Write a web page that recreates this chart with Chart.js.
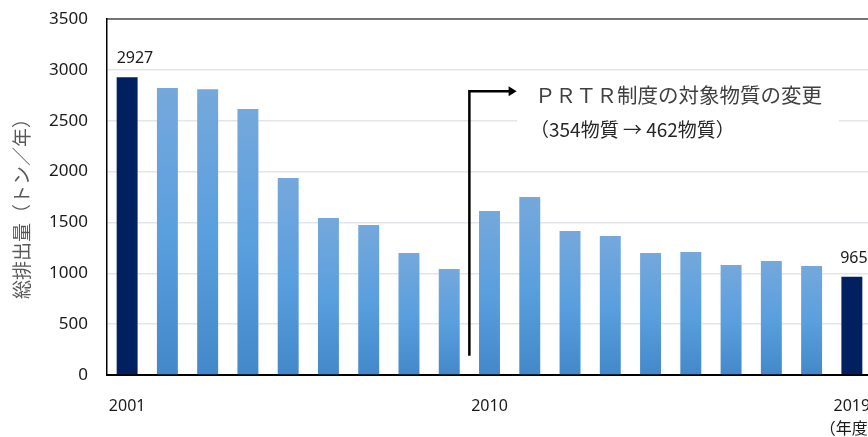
<!DOCTYPE html>
<html lang="ja">
<head>
<meta charset="utf-8">
<title>総排出量</title>
<script src="https://cdn.jsdelivr.net/npm/chart.js@4"></script>
<style>
    html, body { margin: 0; padding: 0; background: #ffffff; overflow: hidden; }
    #emissionChart { display: block; }
</style>
</head>
<body>
<canvas id="emissionChart" width="880" height="437"></canvas>
<script>
// ======================================================
// DATA
// ======================================================
const years = [
    "2001", "2002", "2003", "2004", "2005", "2006", "2007", "2008", "2009", "2010",
    "2011", "2012", "2013", "2014", "2015", "2016", "2017", "2018", "2019"
];

const emissions = [
    2927, 2822, 2810, 2615, 1937, 1544, 1475, 1200, 1042, 1612,
    1750, 1416, 1367, 1200, 1210, 1082, 1121, 1072, 965
];

const shownYears = ["2001", "2010", "2019"];
const yTicks = [0, 500, 1000, 1500, 2000, 2500, 3000, 3500];

const yTitle = "総排出量（トン／年）";
const yearUnit = "（年度）";
const noteLine1 = "ＰＲＴＲ制度の対象物質の変更";
const noteLine2 = "（354物質 → 462物質）";

const DARK = "#002060";
const FONT = "'Noto Sans', 'Noto Sans CJK JP', sans-serif";


// ======================================================
// BAR COLOURS (first / last dark, others gradient)
// ======================================================
function barColor(context) {

    const i = context.dataIndex;

    if (i === 0 || i === emissions.length - 1) return DARK;

    const chart = context.chart;
    const ys = chart.scales.y;

    if (!chart.chartArea || !ys) return "#5b9fde";

    const top = ys.getPixelForValue(emissions[i]);
    const bottom = ys.getPixelForValue(0);

    const g = chart.ctx.createLinearGradient(0, top, 0, bottom);
    g.addColorStop(0, "#75a8dc");
    g.addColorStop(0.5, "#5a9fde");
    g.addColorStop(1, "#4388c8");

    return g;
}


// ======================================================
// EXTRAS: frame, labels, note with arrow
// ======================================================
const extrasPlugin = {

    id: "extras",

    beforeDatasetsDraw(chart) {

        const { ctx, chartArea } = chart;

        // white box behind the note (hides grid lines)
        ctx.save();
        ctx.fillStyle = "#ffffff";
        ctx.fillRect(517, 76, 322, 74);
        ctx.restore();

        // frame
        ctx.save();
        ctx.strokeStyle = "#000000";
        ctx.lineWidth = 1.2;
        ctx.beginPath();
        ctx.moveTo(chartArea.left, chartArea.top);
        ctx.lineTo(chartArea.right, chartArea.top);
        ctx.lineTo(chartArea.right, chartArea.bottom);
        ctx.stroke();
        ctx.restore();
    },

    afterDatasetsDraw(chart) {

        const { ctx } = chart;
        const xs = chart.scales.x;
        const ys = chart.scales.y;
        const bars = chart.getDatasetMeta(0).data;

        // value labels on first and last bar
        ctx.save();
        ctx.fillStyle = "#1a1a1a";
        ctx.font = "16px " + FONT;
        ctx.textBaseline = "middle";

        const first = bars[0];
        ctx.textAlign = "left";
        ctx.fillText(String(emissions[0]), first.x - first.width / 2, first.y - 19);

        const last = bars[bars.length - 1];
        ctx.textAlign = "center";
        ctx.fillText(String(emissions[emissions.length - 1]), last.x + 2, last.y - 18);
        ctx.restore();

        // arrow
        const ax = xs.getPixelForValue(8.5);
        const ay0 = ys.getPixelForValue(190);
        const ay1 = ys.getPixelForValue(2790);
        const ax1 = xs.getPixelForValue(9.5);

        ctx.save();
        ctx.strokeStyle = "#000000";
        ctx.fillStyle = "#000000";
        ctx.lineWidth = 2.5;
        ctx.beginPath();
        ctx.moveTo(ax, ay0);
        ctx.lineTo(ax, ay1);
        ctx.lineTo(ax1, ay1);
        ctx.stroke();

        ctx.beginPath();
        ctx.moveTo(ax1 - 1, ay1 - 5);
        ctx.lineTo(ax1 + 7, ay1);
        ctx.lineTo(ax1 - 1, ay1 + 5);
        ctx.closePath();
        ctx.fill();
        ctx.restore();

        // note text
        ctx.save();
        ctx.textBaseline = "middle";
        ctx.textAlign = "left";
        ctx.fillStyle = "#404040";
        ctx.font = "20.5px 'Noto Sans CJK JP', sans-serif";
        ctx.fillText(noteLine1, 535, 95);

        ctx.fillStyle = "#262626";
        ctx.font = "19px 'Noto Sans CJK JP', sans-serif";
        ctx.fillText(noteLine2, 530, 130);
        ctx.restore();

        // y axis title
        ctx.save();
        ctx.translate(22, 204);
        ctx.rotate(-Math.PI / 2);
        ctx.textAlign = "center";
        ctx.textBaseline = "middle";
        ctx.fillStyle = "#595959";
        ctx.font = "19px 'Noto Sans CJK JP', sans-serif";
        ctx.fillText(yTitle, 0, 0);
        ctx.restore();
    }
};


// ======================================================
// CHART
// ======================================================
new Chart(document.getElementById("emissionChart"), {

    type: "bar",

    data: {

        labels: years,

        datasets: [{

            label: "総排出量",

            data: emissions,

            backgroundColor: barColor,

            barPercentage: 0.52,

            categoryPercentage: 1.0,

            borderWidth: 0

        }]
    },

    options: {

        responsive: false,

        devicePixelRatio: 1,

        animation: false,

        layout: {
            padding: { top: 19, right: 8, left: 0, bottom: 0 }
        },

        plugins: {
            legend: { display: false },
            tooltip: { enabled: false }
        },

        scales: {

            x: {

                afterFit(scale) {
                    scale.height = 62;
                    scale.paddingLeft = 0;
                    scale.paddingRight = 0;
                },

                grid: { display: false, drawTicks: false },

                border: { color: "#000000", width: 2 },

                ticks: {
                    autoSkip: false,
                    maxRotation: 0,
                    padding: 20,
                    color: "#1a1a1a",
                    font: { size: 16, family: FONT, lineHeight: 1.45 },
                    callback(value, index) {
                        const y = years[index];
                        if (index === years.length - 1) return [y, yearUnit];
                        return shownYears.includes(y) ? y : "";
                    }
                }

            },

            y: {

                min: 0,

                max: 3500,

                afterFit(scale) {
                    scale.width = 107;
                    scale.paddingTop = 0;
                    scale.paddingBottom = 0;
                },

                afterBuildTicks(scale) {
                    scale.ticks = yTicks.map(v => ({ value: v }));
                },

                grid: {
                    color: "#e2e5ea",
                    lineWidth: 1.5,
                    drawTicks: false
                },

                border: { color: "#000000", width: 1.5 },

                ticks: {
                    padding: 19,
                    color: "#1a1a1a",
                    font: { size: 17, family: FONT },
                    callback(value) { return String(value); }
                }

            }

        }

    },

    plugins: [extrasPlugin]

});
</script>
</body>
</html>
